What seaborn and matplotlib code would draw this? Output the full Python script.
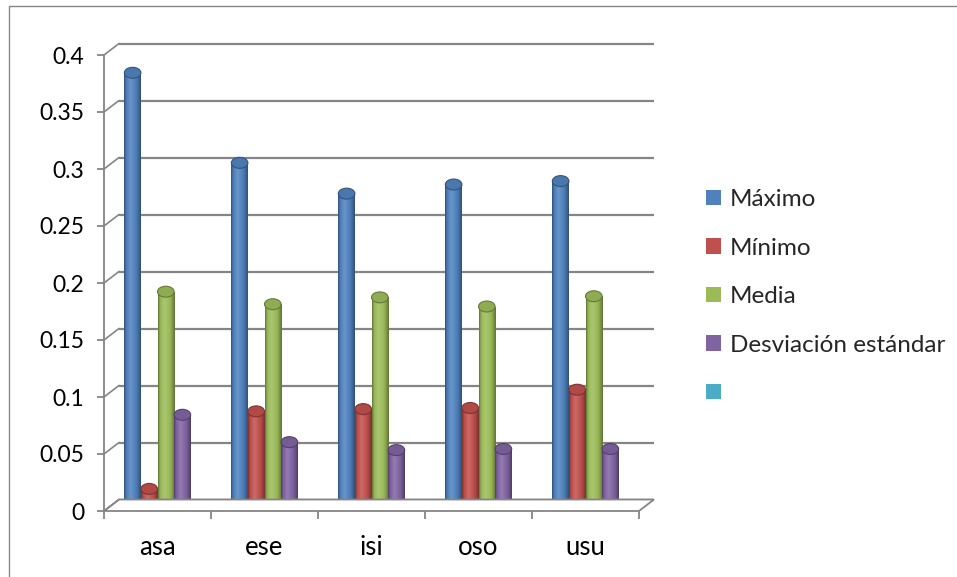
import numpy as np
import pandas as pd
import matplotlib
matplotlib.use("Agg")
import matplotlib.pyplot as plt
import matplotlib.transforms as mtransforms
from matplotlib.patches import Ellipse, Patch, Rectangle, Polygon
from matplotlib.lines import Line2D
import seaborn as sns

# ---- data ----
categorias = ["asa", "ese", "isi", "oso", "usu"]
series = ["Máximo", "Mínimo", "Media", "Desviación estándar"]
maximo = [0.380, 0.301, 0.274, 0.282, 0.285]
minimo = [0.015, 0.083, 0.085, 0.086, 0.102]
media = [0.188, 0.177, 0.183, 0.175, 0.184]
desviacion = [0.080, 0.056, 0.049, 0.050, 0.050]
y_ticks = [0, 0.05, 0.1, 0.15, 0.2, 0.25, 0.3, 0.35, 0.4]
y_labels = ["0", "0.05", "0.1", "0.15", "0.2", "0.25", "0.3", "0.35", "0.4"]
colores = ["#4F81BD", "#C0504D", "#9BBB59", "#8064A2"]
color_extra = "#4BACC6"

df = pd.DataFrame({
    "Categoría": categorias * 4,
    "Serie": sum([[s] * len(categorias) for s in series], []),
    "Valor": maximo + minimo + media + desviacion,
})

sns.set_theme(style="white")
FONT = ["Lato", "DejaVu Sans"]
plt.rcParams["font.family"] = FONT
FS = 16.5

W, H = 957, 577
fig = plt.figure(figsize=(W / 100, H / 100), dpi=100)
x0, x1 = 104, 639
y0, y1 = 511, 55
ax = fig.add_axes([x0 / W, (H - y0) / H, (x1 - x0) / W, (y0 - y1) / H])

GRID = "#858585"

sns.barplot(data=df, x="Categoría", y="Valor", hue="Serie", palette=colores,
            width=0.62, gap=0, saturation=1, legend=False, errorbar=None, ax=ax,
            zorder=3)

ax.set_xlim(-0.5, len(categorias) - 0.5)
ax.set_ylim(0, 0.4)

# pixel-based offsets for the 3-D depth effect
def shift(dx_px, dy_px):
    return ax.transData + mtransforms.ScaledTranslation(dx_px / 100, dy_px / 100, fig.dpi_scale_trans)

back = shift(15, 11.5)
mid = shift(0, 5)
inv = fig.transFigure.inverted()

# back wall gridlines and connectors to the front axis
for v in y_ticks:
    ax.plot([-0.5, len(categorias) - 0.5], [v, v], color=GRID, lw=1.6,
            transform=back, clip_on=False, zorder=1, solid_capstyle="butt")
    xa, ya = ax.transData.transform((-0.5, v))
    p0 = inv.transform((xa, ya))
    p1 = inv.transform((xa + 15, ya + 11.5))
    fig.add_artist(Line2D([p0[0], p1[0]], [p0[1], p1[1]], color=GRID, lw=1.2))

# floor
fl = [ax.transData.transform((-0.5, 0)), ax.transData.transform((4.5, 0))]
fl_pts = [fl[0], fl[1], fl[1] + np.array([15, 11.5]), fl[0] + np.array([15, 11.5])]
fig.add_artist(Polygon([inv.transform(p) for p in fl_pts], closed=True,
                       facecolor="white", edgecolor=GRID, lw=1.3, zorder=0.5))

# cylinder shading on each bar
def mix(c, b):
    c = np.array(matplotlib.colors.to_rgb(c))
    return c + (1 - c) * b if b > 0 else c * (1 + b)

tgrid = np.linspace(0, 1, 64)
shade = np.interp(tgrid, [0, 0.12, 0.38, 0.75, 1], [-0.38, -0.05, 0.16, -0.05, -0.38])
e_h = 0.0048
for patch in list(ax.patches):
    x, w, h = patch.get_x(), patch.get_width(), patch.get_height()
    col = patch.get_facecolor()
    patch.set_transform(mid)
    patch.set_edgecolor("none")
    img = np.array([[mix(col, b) for b in shade]])
    ax.add_patch(Ellipse((x + w / 2, 0), w, e_h * 2, transform=mid,
                         facecolor=mix(col, -0.2), edgecolor="none", zorder=2.9))
    im = ax.imshow(img, extent=[x, x + w, 0, h], aspect="auto", transform=mid,
                   zorder=3.1, interpolation="bilinear")
    im.set_clip_path(patch)
    ax.add_patch(Ellipse((x + w / 2, h), w, e_h * 2, transform=mid,
                         facecolor=mix(col, -0.08), edgecolor=mix(col, -0.35),
                         lw=0.8, zorder=3.3))

ax.set_xlim(-0.5, len(categorias) - 0.5)
ax.set_ylim(0, 0.4)

# axes styling
for s in ["top", "right", "bottom"]:
    ax.spines[s].set_visible(False)
ax.spines["left"].set_color(GRID)
ax.spines["left"].set_linewidth(1.3)
ax.set_yticks(y_ticks)
ax.set_yticklabels(y_labels)
ax.tick_params(axis="y", length=5, width=1.3, color=GRID, pad=9,
               labelsize=FS, labelcolor="black", left=True)
ax.set_xticks(range(len(categorias)))
ax.set_xticklabels(categorias)
ax.set_xticks(np.arange(-0.5, len(categorias)), minor=True)
ax.tick_params(axis="x", which="major", length=0, pad=17, labelsize=18.5,
               labelcolor="black")
ax.tick_params(axis="x", which="minor", length=6, width=1.3, color=GRID,
               bottom=True)
ax.set_xlabel("")
ax.set_ylabel("")
ax.patch.set_alpha(0)
ax.grid(False)

# legend
handles = [Patch(facecolor=c, edgecolor="none") for c in colores] + \
          [Patch(facecolor=color_extra, edgecolor="none")]
labels = series + [""]
fig.legend(handles, labels, loc="upper left", bbox_to_anchor=(694 / W, 1 - 177 / H),
           frameon=False, fontsize=17.5, handlelength=0.62, handleheight=0.62,
           handletextpad=0.35, labelspacing=1.13, borderpad=0)

# chart frame
fig.add_artist(Rectangle((9 / W, -0.05), 1.0, 1.05 - 6 / H,
                         transform=fig.transFigure, fill=False,
                         edgecolor="#868686", lw=1.0))

fig.savefig("out.png", dpi=100)
